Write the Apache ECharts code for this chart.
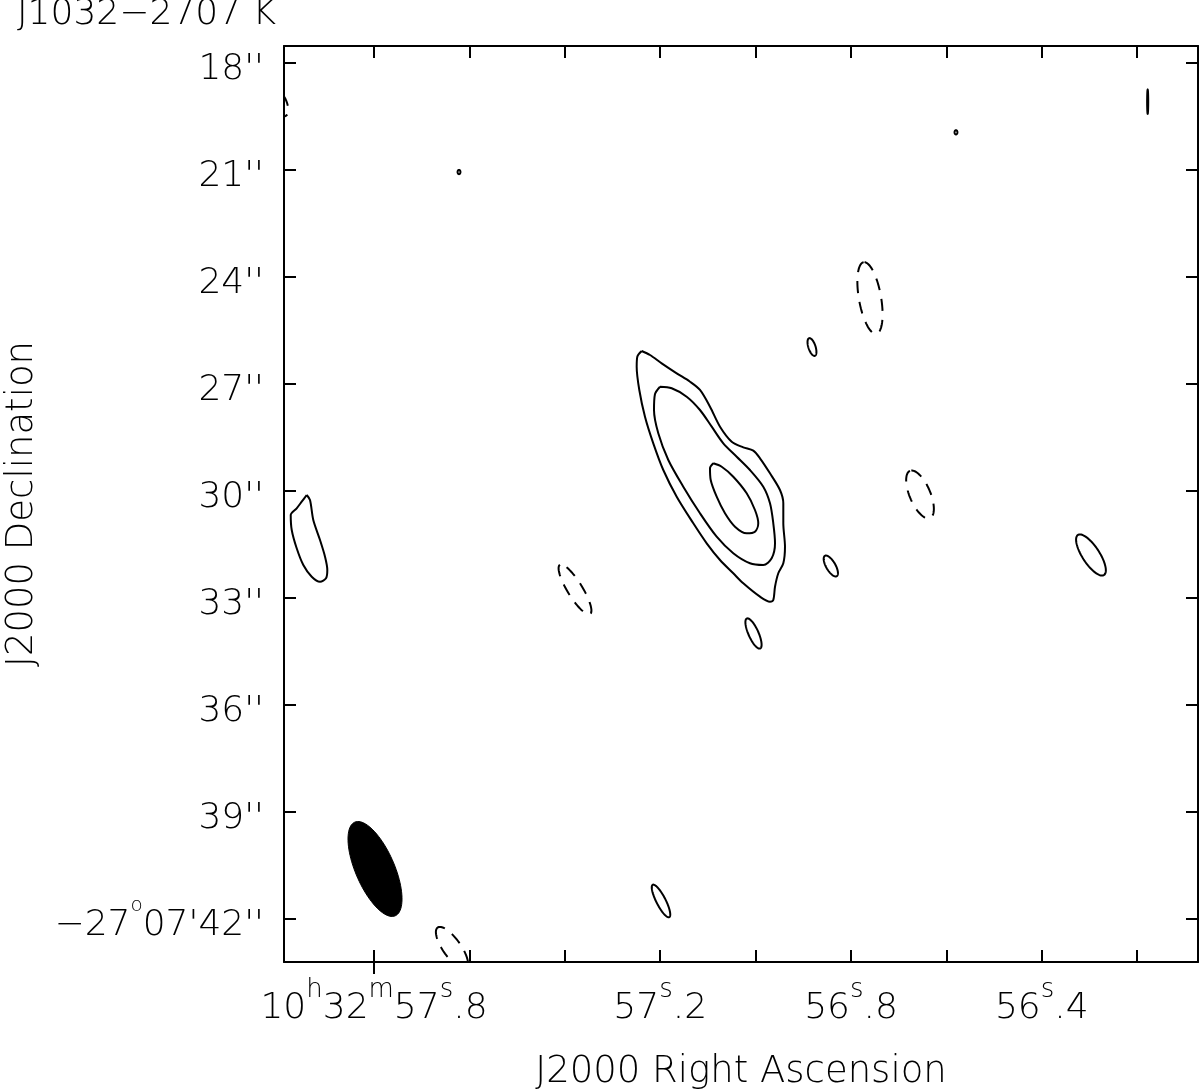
<!DOCTYPE html>
<html>
<head>
<meta charset="utf-8">
<script src="https://cdn.jsdelivr.net/npm/echarts@6/dist/echarts.min.js"></script>
<style>
html, body { margin: 0; padding: 0; background: #fff; }
#chart { width: 1200px; height: 1091px; }
</style>
</head>
<body>
<div id="chart"></div>
<script>
// RA in seconds of 10h32m, Dec in arcsec below -27d07'
const raRange = [56.0725, 57.9887];
const decRange = [17.537, 43.218];
const raTicks = [57.8, 57.6, 57.4, 57.2, 57.0, 56.8, 56.6, 56.4, 56.2];
const raLabels = [57.8, 57.2, 56.8, 56.4];
const decTicks = [18, 21, 24, 27, 30, 33, 36, 39, 42];

// traced contours [ra, dec]
const outerContour = [
    [57.2388, 26.088], [57.2214, 26.200], [57.1969, 26.433], [57.1654, 26.713],
    [57.1375, 26.949], [57.1166, 27.181], [57.0956, 27.650], [57.0746, 28.210],
    [57.0501, 28.631], [57.0258, 28.788], [57.0048, 28.883], [56.9908, 29.096],
    [56.9698, 29.517], [56.9489, 29.985], [56.9419, 30.358], [56.9419, 30.918],
    [56.9384, 31.575], [56.9419, 32.040], [56.9524, 32.320], [56.9593, 32.696],
    [56.9629, 33.069], [56.9698, 33.116], [56.9908, 32.976], [57.0258, 32.601],
    [57.0468, 32.320], [57.0746, 31.947], [57.1025, 31.479], [57.1306, 30.918],
    [57.1654, 30.173], [57.1935, 29.424], [57.2145, 28.676], [57.2319, 27.930],
    [57.2438, 27.181], [57.2493, 26.528], [57.2480, 26.248], [57.2388, 26.088]
];
const middleContour = [
    [57.2004, 27.089], [57.1759, 27.134], [57.1445, 27.369], [57.1166, 27.742],
    [57.0920, 28.210], [57.0677, 28.676], [57.0396, 29.051], [57.0118, 29.424],
    [56.9839, 29.892], [56.9698, 30.358], [56.9629, 30.918], [56.9593, 31.479],
    [56.9663, 31.900], [56.9839, 32.088], [57.0118, 32.040], [57.0468, 31.759],
    [57.0816, 31.294], [57.1166, 30.638], [57.1516, 29.892], [57.1830, 29.144],
    [57.2040, 28.395], [57.2130, 27.742], [57.2110, 27.300], [57.2004, 27.089]
];
const innerContour = [
    [57.0887, 29.236], [57.0711, 29.332], [57.0468, 29.612], [57.0187, 30.077],
    [57.0013, 30.546], [56.9944, 30.918], [57.0013, 31.154], [57.0187, 31.199],
    [57.0432, 31.014], [57.0642, 30.638], [57.0816, 30.173], [57.0941, 29.705],
    [57.0956, 29.377], [57.0887, 29.236]
];
const westContour = [
    [57.9411, 30.125], [57.9342, 30.265], [57.9273, 30.826], [57.9132, 31.387],
    [57.9027, 31.855], [57.8979, 32.228], [57.9006, 32.460], [57.9132, 32.556],
    [57.9306, 32.416], [57.9482, 32.088], [57.9621, 31.619], [57.9725, 31.106],
    [57.9746, 30.686], [57.9621, 30.498], [57.9516, 30.313], [57.9411, 30.125]
];

// small contours as ellipses: [ra, dec, semi-major", semi-minor", PA deg]
const positiveBlobs = [
    [57.0044, 34.008, 0.46, 0.14, 24],
    [56.8423, 32.116, 0.33, 0.13, 30],
    [56.8818, 25.976, 0.26, 0.10, 18],
    [56.2969, 31.807, 0.67, 0.24, 33],
    [57.1983, 41.507, 0.51, 0.13, 27],
    [57.6218, 21.070, 0.06, 0.04, 0],
    [56.5799, 19.957, 0.06, 0.04, 0],
    [56.1780, 19.099, 0.34, 0.015, 0]
];
const negativeBlobs = [
    [57.3786, 32.774, 0.81, 0.21, 31.5],
    [56.6553, 30.111, 0.72, 0.29, 23],
    [56.7602, 24.602, 1.02, 0.31, 10],
    [57.6365, 42.825, 0.70, 0.25, 35],
    [57.9950, 19.163, 0.36, 0.17, 20]
];
const beam = [[57.7979, 40.61, 1.43, 0.546, 23.3]];

const arcsecPerSec = 15 * Math.cos(27.12 * Math.PI / 180);
const font = 'DejaVu Sans';

function ellipseRenderer(style) {
    return function (params, api) {
        const ra0 = api.value(0), dec0 = api.value(1);
        const a = api.value(2), b = api.value(3);
        const pa = api.value(4) * Math.PI / 180;
        const pts = [];
        for (let k = 0; k < 90; k++) {
            const t = k / 90 * 2 * Math.PI;
            const dE = a * Math.cos(t) * Math.sin(pa) + b * Math.sin(t) * Math.cos(pa);
            const dN = a * Math.cos(t) * Math.cos(pa) - b * Math.sin(t) * Math.sin(pa);
            pts.push(api.coord([ra0 + dE / arcsecPerSec, dec0 - dN]));
        }
        return { type: 'polygon', shape: { points: pts }, style: style };
    };
}

function raLabel(v) {
    const s = v.toFixed(1).split('.');
    if (Math.abs(v - 57.8) < 1e-6) {
        return '{n|10}{s|h}{n|32}{s|m}{n|' + s[0] + '}{s|s}{n|.' + s[1] + '}';
    }
    return '{n|' + s[0] + '}{s|s}{n|.' + s[1] + '}';
}

function decLabel(v) {
    if (v === 42) return '{n|\u221227}{s|o}{n|07\'42\'\'}';
    return '{n|' + v + '\'\'}';
}

const txt = { fontFamily: font, fontWeight: 200, color: '#000' };
const raRich = {
    n: Object.assign({ fontSize: 36, lineHeight: 63 }, txt),
    s: Object.assign({ fontSize: 26, lineHeight: 30, verticalAlign: 'top' }, txt)
};
const decRich = {
    n: Object.assign({ fontSize: 36, lineHeight: 60 }, txt),
    s: Object.assign({ fontSize: 20, lineHeight: 23, verticalAlign: 'top' }, txt)
};
const axisLineStyle = { color: '#000', width: 2 };
const lineSeries = (data) => ({
    type: 'line', data: data, xAxisIndex: 0, yAxisIndex: 0,
    showSymbol: false, smooth: 0.3, silent: true,
    lineStyle: { color: '#000', width: 2 }
});

const chart = echarts.init(document.getElementById('chart'));
chart.setOption({
    animation: false,
    backgroundColor: '#fff',
    graphic: [{
        type: 'text', x: 17, y: 15, silent: true,
        style: {
            text: 'J1032\u22122707 K', fill: '#000',
            font: '200 36px "DejaVu Sans"', verticalAlign: 'middle', align: 'left'
        }
    }],
    grid: { left: 284, top: 46, right: 2, bottom: 129, containLabel: false, outerBoundsMode: 'none' },
    xAxis: [{
        type: 'value', min: raRange[0], max: raRange[1], inverse: true, position: 'bottom',
        name: 'J2000 Right Ascension', nameLocation: 'middle', nameGap: 92,
        nameTextStyle: Object.assign({ fontSize: 37 }, txt),
        axisLine: { show: true, lineStyle: axisLineStyle },
        axisTick: { show: true, inside: true, length: 12, customValues: raTicks, lineStyle: axisLineStyle },
        axisLabel: { customValues: raLabels, formatter: raLabel, rich: raRich, margin: 15 },
        splitLine: { show: false }
    }, {
        type: 'value', min: raRange[0], max: raRange[1], inverse: true, position: 'bottom',
        axisLine: { show: false },
        axisTick: { show: true, inside: false, length: 12, customValues: [57.8], lineStyle: axisLineStyle },
        axisLabel: { show: false },
        splitLine: { show: false }
    }, {
        type: 'value', min: raRange[0], max: raRange[1], inverse: true, position: 'top',
        axisLine: { show: true, lineStyle: axisLineStyle },
        axisTick: { show: true, inside: true, length: 12, customValues: raTicks, lineStyle: axisLineStyle },
        axisLabel: { show: false },
        splitLine: { show: false }
    }],
    yAxis: [{
        type: 'value', min: decRange[0], max: decRange[1], inverse: true, position: 'left',
        name: 'J2000 Declination', nameLocation: 'middle', nameGap: 243, nameRotate: 90,
        nameTextStyle: Object.assign({ fontSize: 37 }, txt),
        axisLine: { show: true, lineStyle: axisLineStyle },
        axisTick: { show: true, inside: true, length: 12, customValues: decTicks, lineStyle: axisLineStyle },
        axisLabel: { customValues: decTicks, formatter: decLabel, rich: decRich, margin: 20, padding: [14, 0, 0, 0] },
        splitLine: { show: false }
    }, {
        type: 'value', min: decRange[0], max: decRange[1], inverse: true, position: 'right',
        axisLine: { show: true, lineStyle: axisLineStyle },
        axisTick: { show: true, inside: true, length: 12, customValues: decTicks, lineStyle: axisLineStyle },
        axisLabel: { show: false },
        splitLine: { show: false }
    }],
    series: [
        lineSeries(outerContour),
        lineSeries(middleContour),
        lineSeries(innerContour),
        lineSeries(westContour),
        {
            type: 'custom', data: positiveBlobs, clip: true, silent: true,
            encode: { x: 0, y: 1 },
            renderItem: ellipseRenderer({ fill: 'none', stroke: '#000', lineWidth: 2 })
        },
        {
            type: 'custom', data: negativeBlobs, clip: true, silent: true,
            encode: { x: 0, y: 1 },
            renderItem: ellipseRenderer({ fill: 'none', stroke: '#000', lineWidth: 2, lineDash: [12, 9] })
        },
        {
            type: 'custom', data: beam, clip: true, silent: true,
            encode: { x: 0, y: 1 },
            renderItem: ellipseRenderer({ fill: '#000', stroke: '#000', lineWidth: 1 })
        }
    ]
});
</script>
</body>
</html>
